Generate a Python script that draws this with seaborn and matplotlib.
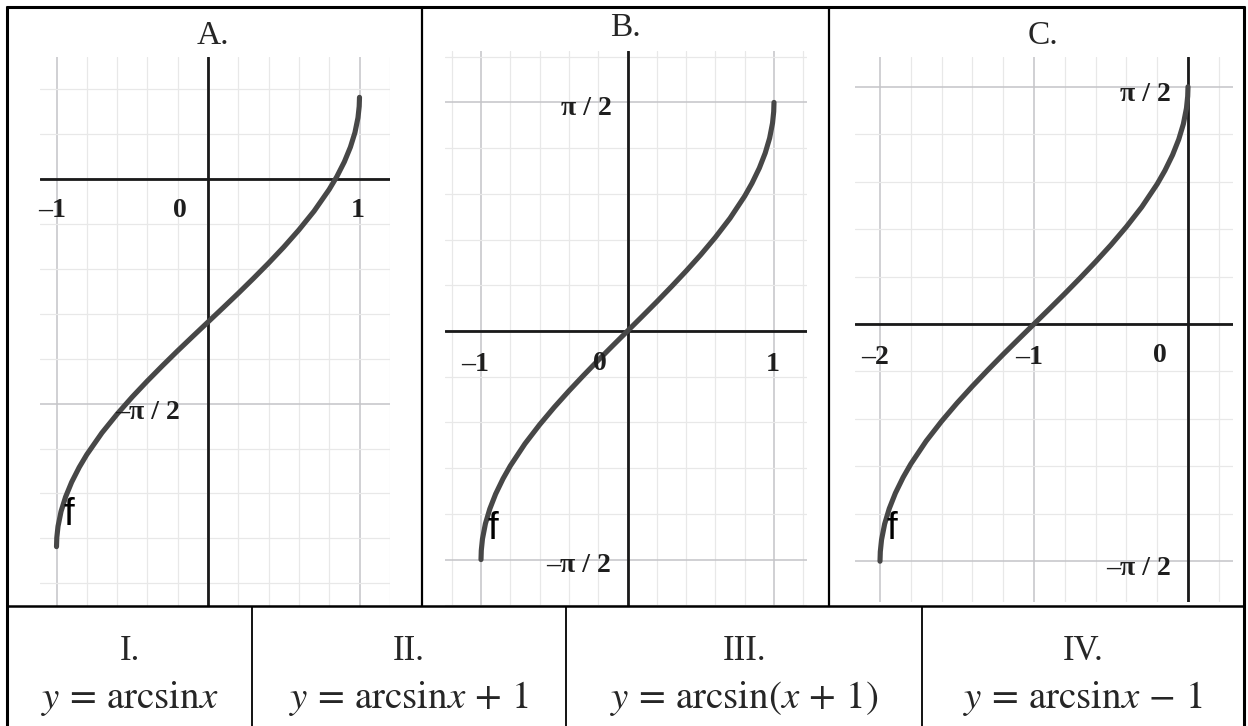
import numpy as np
import pandas as pd
import matplotlib
matplotlib.use("Agg")
import matplotlib.pyplot as plt
import seaborn as sns

W, H = 1248, 726

# curve points
x_a = [-1.0, -0.998, -0.99, -0.97, -0.94, -0.9, -0.85, -0.8, -0.7, -0.6, -0.5, -0.4, -0.3, -0.2, -0.1, 0.0,
       0.1, 0.2, 0.3, 0.4, 0.5, 0.6, 0.7, 0.8, 0.85, 0.9, 0.94, 0.97, 0.99, 0.998, 1.0]
y_a = [-2.571, -2.508, -2.429, -2.325, -2.223, -2.120, -2.016, -1.927, -1.775, -1.644, -1.524, -1.412,
       -1.305, -1.201, -1.100, -1.0, -0.900, -0.799, -0.695, -0.588, -0.476, -0.356, -0.225, -0.073,
       0.016, 0.120, 0.223, 0.325, 0.429, 0.508, 0.571]

x_b = [-1.0, -0.998, -0.99, -0.97, -0.94, -0.9, -0.85, -0.8, -0.7, -0.6, -0.5, -0.4, -0.3, -0.2, -0.1, 0.0,
       0.1, 0.2, 0.3, 0.4, 0.5, 0.6, 0.7, 0.8, 0.85, 0.9, 0.94, 0.97, 0.99, 0.998, 1.0]
y_b = [-1.571, -1.508, -1.429, -1.325, -1.223, -1.120, -1.016, -0.927, -0.775, -0.644, -0.524, -0.412,
       -0.305, -0.201, -0.100, 0.0, 0.100, 0.201, 0.305, 0.412, 0.524, 0.644, 0.775, 0.927,
       1.016, 1.120, 1.223, 1.325, 1.429, 1.508, 1.571]

x_c = [-2.0, -1.998, -1.99, -1.97, -1.94, -1.9, -1.85, -1.8, -1.7, -1.6, -1.5, -1.4, -1.3, -1.2, -1.1, -1.0,
       -0.9, -0.8, -0.7, -0.6, -0.5, -0.4, -0.3, -0.2, -0.15, -0.1, -0.06, -0.03, -0.01, -0.002, 0.0]
y_c = [-1.571, -1.508, -1.429, -1.325, -1.223, -1.120, -1.016, -0.927, -0.775, -0.644, -0.524, -0.412,
       -0.305, -0.201, -0.100, 0.0, 0.100, 0.201, 0.305, 0.412, 0.524, 0.644, 0.775, 0.927,
       1.016, 1.120, 1.223, 1.325, 1.429, 1.508, 1.571]

titles = ["A.", "B.", "C."]
numerals = ["I.", "II.", "III.", "IV."]
formulas = [r"$y\,=\,\mathrm{arcsin}x$", r"$y\,=\,\mathrm{arcsin}x\,+\,1$",
            r"$y\,=\,\mathrm{arcsin}(x\,+\,1)$", r"$y\,=\,\mathrm{arcsin}x\,-\,1$"]

PI2 = "\u03c0 / 2"
# tick labels per panel: (text, x, y, ha)
labels_a = [("\u20131", -1.03, -0.22, "center"), ("0", -0.185, -0.22, "center"),
            ("1", 0.99, -0.22, "center"), ("\u2013" + PI2, -0.40, -1.63, "center")]
labels_b = [(PI2, -0.11, 1.53, "right"), ("\u2013" + PI2, -0.11, -1.615, "right"),
            ("\u20131", -1.04, -0.23, "center"), ("0", -0.19, -0.22, "center"),
            ("1", 0.993, -0.23, "center")]
labels_c = [(PI2, -0.11, 1.52, "right"), ("\u2013" + PI2, -0.11, -1.616, "right"),
            ("\u20132", -2.03, -0.225, "center"), ("\u20131", -1.03, -0.225, "center"),
            ("0", -0.18, -0.21, "center")]
f_pos = [(-0.92, -2.35), (-0.92, -1.36), (-1.92, -1.36)]

sns.set_style("white")
plt.rcParams["mathtext.fontset"] = "stix"
SERIF = ["Liberation Serif", "DejaVu Serif"]
CURVE = "#474747"

fig = plt.figure(figsize=(W / 100, H / 100), dpi=100)


def px_axes(x0, y0, x1, y1):
    return fig.add_axes([x0 / W, 1 - y1 / H, (x1 - x0) / W, (y1 - y0) / H])


# pixel geometry of each graph: rect, origin, px per unit
panels = [
    dict(rect=(40, 57, 390, 606), origin=(208, 179), unit=(151.5, 143.0),
         xs=x_a, ys=y_a, labels=labels_a, title_xy=(213, 36)),
    dict(rect=(445, 51, 807, 606), origin=(627.5, 331), unit=(146.5, 145.5),
         xs=x_b, ys=y_b, labels=labels_b, title_xy=(625, 28)),
    dict(rect=(855, 57, 1233, 602), origin=(1188, 324), unit=(154.0, 151.0),
         xs=x_c, ys=y_c, labels=labels_c, title_xy=(1043, 36)),
]

for i, p in enumerate(panels):
    x0, y0, x1, y1 = p["rect"]
    ox, oy = p["origin"]
    ux, uy = p["unit"]
    ax = px_axes(x0, y0, x1, y1)
    df = pd.DataFrame({"x": p["xs"], "y": p["ys"]})
    sns.lineplot(data=df, x="x", y="y", ax=ax, color=CURVE, lw=3.7, sort=False,
                 estimator=None, zorder=5, solid_capstyle="round")
    ax.set_xticks(np.arange(-3, 3.01, 1.0))
    ax.set_xticks(np.arange(-3, 3.01, 0.2), minor=True)
    ax.set_yticks(np.arange(-4, 5) * np.pi / 2)
    ax.set_yticks(np.arange(-20, 21) * np.pi / 10, minor=True)
    ax.grid(which="minor", color="#e8e8e8", lw=0.9)
    ax.grid(which="major", color="#c4c4c8", lw=1.1)
    ax.set_axisbelow(True)
    ax.tick_params(which="both", length=0, labelbottom=False, labelleft=False)
    for s in ax.spines.values():
        s.set_visible(False)
    ax.axhline(0, color="#1a1a1a", lw=2.0, zorder=3)
    ax.axvline(0, color="#1a1a1a", lw=2.0, zorder=3)
    ax.set_xlim((x0 - ox) / ux, (x1 - ox) / ux)
    ax.set_ylim((oy - y1) / uy, (oy - y0) / uy)
    ax.set_xlabel("")
    ax.set_ylabel("")
    for txt, tx, ty, ha in p["labels"]:
        ax.text(tx, ty, txt, ha=ha, va="center", fontsize=20, fontweight="bold",
                family=SERIF, color="#1e1e1e", zorder=6)
    fx, fy = f_pos[i]
    ax.text(fx, fy, "f", ha="center", va="center", fontsize=28,
            family=["Liberation Sans", "DejaVu Sans"], color="black", zorder=6)
    fig.text(p["title_xy"][0] / W, 1 - p["title_xy"][1] / H, titles[i], ha="center",
             va="center", fontsize=24, family=SERIF)

# table lines and bottom row
tab = fig.add_axes([0, 0, 1, 1], zorder=10)
tab.set_xlim(0, W)
tab.set_ylim(H, 0)
tab.axis("off")
tab.patch.set_alpha(0)
k = dict(color="black", solid_capstyle="butt")
tab.plot([6, 1245], [7, 7], lw=2.2, **k)
tab.plot([7, 7], [6, H], lw=2.2, **k)
tab.plot([1244, 1244], [6, H], lw=2.2, **k)
tab.plot([6, 1245], [606, 606], lw=1.8, **k)
for xv in [422, 829]:
    tab.plot([xv, xv], [7, 606], lw=1.6, **k)
for xv in [252, 566, 922]:
    tab.plot([xv, xv], [606, H], lw=1.3, **k)

centers = [130, 409, 744, 1083]
for cx, num, fm in zip(centers, numerals, formulas):
    tab.text(cx, 652, num, ha="center", va="center", fontsize=25, family=SERIF)
    tab.text(cx, 698, fm, ha="center", va="center", fontsize=28)

fig.savefig("out.png", dpi=100)
